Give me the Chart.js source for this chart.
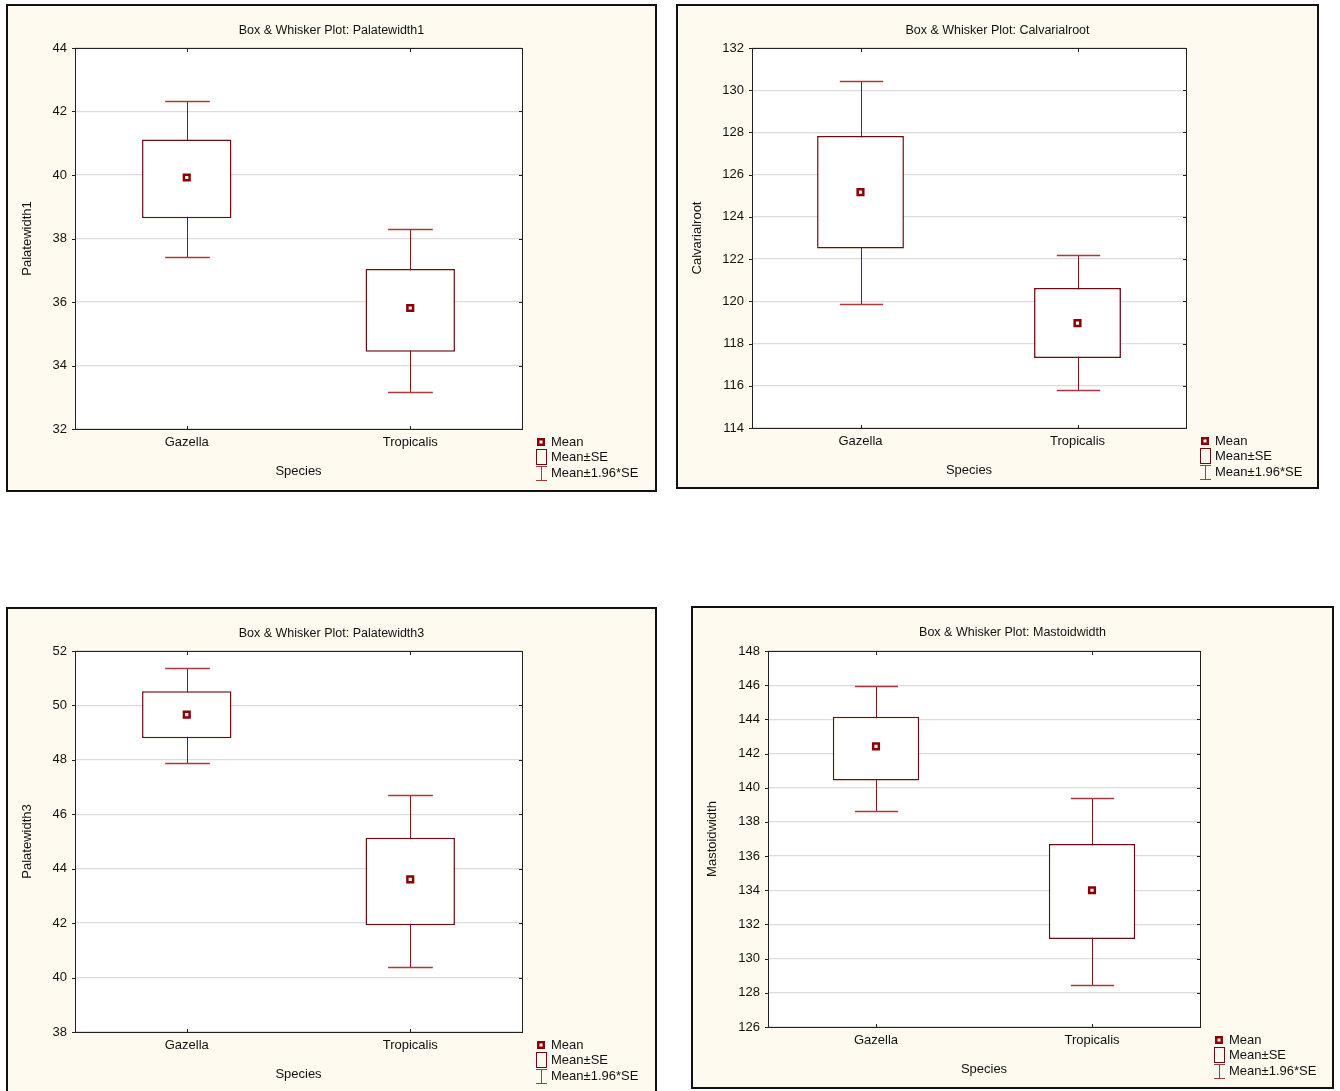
<!DOCTYPE html>
<html>
<head>
<meta charset="utf-8">
<script src="https://cdn.jsdelivr.net/npm/chart.js@4.4.1/dist/chart.umd.min.js"></script>
<style>
  body { margin: 0; background: #fff; width: 1340px; height: 1091px; overflow: hidden; position: relative; }
  .panel { position: absolute; box-sizing: border-box; border: 2px solid #111; background: #fffaef; }
  .panel canvas { position: absolute; left: 0; top: 0; }
</style>
</head>
<body>
<div class="panel" id="p0"><canvas id="c0"></canvas></div>
<div class="panel" id="p1"><canvas id="c1"></canvas></div>
<div class="panel" id="p2"><canvas id="c2"></canvas></div>
<div class="panel" id="p3"><canvas id="c3"></canvas></div>
<script>
// data, one entry per variable: [Gazella, Tropicalis]
const species = ['Gazella', 'Tropicalis'];
const variables = ['Palatewidth1', 'Calvarialroot', 'Palatewidth3', 'Mastoidwidth'];

const meanValues = [[39.92, 35.81], [125.17, 118.97], [49.66, 43.61], [142.42, 134.0]];
const seHigh = [[41.12, 37.04], [127.83, 120.63], [50.52, 45.14], [144.16, 136.71]];
const seLow = [[38.64, 34.43], [122.50, 117.31], [48.79, 41.92], [140.42, 131.15]];
const ciHigh = [[42.32, 38.30], [130.45, 122.21], [51.37, 46.70], [145.97, 139.40]];
const ciLow = [[37.42, 33.17], [119.87, 115.78], [47.89, 40.38], [138.62, 128.48]];

const yMin = [32, 114, 38, 126];
const yMax = [44, 132, 52, 148];
const yStep = [2, 2, 2, 2];

const legendLabels = ['Mean', 'Mean\u00b1SE', 'Mean\u00b11.96*SE'];

// layout of the four panels (page px) and their plot areas
const panels = [
  { left: 6, top: 4, w: 651, h: 488, area: { l: 75, t: 48, r: 522, b: 429 } },
  { left: 676, top: 4, w: 643, h: 485, area: { l: 752, t: 48, r: 1186, b: 428 } },
  { left: 6, top: 607, w: 651, h: 490, area: { l: 75, t: 651, r: 522, b: 1032 } },
  { left: 691, top: 606, w: 643, h: 483, area: { l: 768, t: 651, r: 1200, b: 1027 } }
];

const FONT = "'Liberation Sans', Arial, sans-serif";
const MAROON = '#6e0b0e';
const X_AXIS_H = 56;

function drawMeanMarker(ctx, x, y) {
  ctx.save();
  ctx.fillStyle = '#8b0000';
  ctx.fillRect(Math.round(x) - 4, Math.round(y) - 4, 8, 8);
  ctx.fillStyle = '#fff';
  ctx.fillRect(Math.round(x) - 1.5, Math.round(y) - 1.5, 3, 3);
  ctx.restore();
}

const boxWhiskerPlugin = {
  id: 'boxWhisker',
  beforeDraw(chart) {
    const a = chart.chartArea;
    const ctx = chart.ctx;
    ctx.save();
    ctx.fillStyle = '#fff';
    ctx.fillRect(a.left, a.top, a.right - a.left, a.bottom - a.top);
    ctx.restore();
  },
  beforeDatasetsDraw(chart, args, opts) {
    const ctx = chart.ctx;
    const y = chart.scales.y;
    const bars = chart.getDatasetMeta(1).data;
    ctx.save();
    bars.forEach((bar, i) => {
      const x = Math.round(bar.x) + 0.5;
      const half = bar.width / 4;
      const top = Math.round(y.getPixelForValue(opts.hi[i])) + 0.5;
      const bot = Math.round(y.getPixelForValue(opts.lo[i])) + 0.5;
      // stems
      ctx.strokeStyle = '#861619';
      ctx.lineWidth = 1;
      ctx.beginPath();
      ctx.moveTo(x, top);
      ctx.lineTo(x, bot);
      ctx.stroke();
      // caps
      ctx.strokeStyle = '#a8393c';
      ctx.lineWidth = 1.5;
      ctx.beginPath();
      ctx.moveTo(x - half, top);
      ctx.lineTo(x + half, top);
      ctx.moveTo(x - half, bot);
      ctx.lineTo(x + half, bot);
      ctx.stroke();
    });
    ctx.restore();
  },
  afterDraw(chart, args, opts) {
    const ctx = chart.ctx;
    const a = chart.chartArea;
    const y = chart.scales.y;
    const x = chart.scales.x;
    ctx.save();
    // frame
    ctx.strokeStyle = '#222';
    ctx.lineWidth = 1;
    ctx.strokeRect(Math.round(a.left) + 0.5, Math.round(a.top) + 0.5,
      Math.round(a.right - a.left), Math.round(a.bottom - a.top));
    // small tick marks
    ctx.beginPath();
    y.ticks.forEach(t => {
      const py = Math.round(y.getPixelForValue(t.value)) + 0.5;
      ctx.moveTo(a.left - 3, py); ctx.lineTo(a.left, py);
      ctx.moveTo(a.right - 3, py); ctx.lineTo(a.right, py);
    });
    species.forEach((s, i) => {
      const px = Math.round(x.getPixelForValue(i)) + 0.5;
      ctx.moveTo(px, a.top); ctx.lineTo(px, a.top + 4);
      ctx.moveTo(px, a.bottom); ctx.lineTo(px, a.bottom - 3);
    });
    ctx.stroke();

    // title
    ctx.fillStyle = '#111';
    ctx.font = '12.5px ' + FONT;
    ctx.textAlign = 'center';
    ctx.textBaseline = 'middle';
    ctx.fillText(opts.title, chart.width / 2, 24.5);

    // legend
    const lx = a.right + 19;
    const rows = [a.bottom + 13, a.bottom + 28, a.bottom + 44];
    ctx.font = '13px ' + FONT;
    ctx.textAlign = 'left';
    ctx.fillStyle = '#111';
    legendLabels.forEach((lab, i) => ctx.fillText(lab, lx + 10, rows[i]));
    drawMeanMarker(ctx, lx, rows[0]);
    ctx.strokeStyle = MAROON;
    ctx.lineWidth = 1;
    ctx.strokeRect(Math.round(lx) - 4.5, rows[1] - 7.5, 10, 15);
    ctx.strokeStyle = '#a8393c';
    ctx.beginPath();
    ctx.moveTo(lx - 5, Math.round(rows[2] - 7) + 0.5); ctx.lineTo(lx + 6, Math.round(rows[2] - 7) + 0.5);
    ctx.moveTo(lx - 5, Math.round(rows[2] + 7) + 0.5); ctx.lineTo(lx + 6, Math.round(rows[2] + 7) + 0.5);
    ctx.moveTo(Math.round(lx) + 0.5, rows[2] - 7); ctx.lineTo(Math.round(lx) + 0.5, rows[2] + 7);
    ctx.stroke();
    ctx.restore();
  }
};

function buildChart(i) {
  const p = panels[i];
  const cx = p.left + 2, cy = p.top + 2, cw = p.w - 4, ch = p.h - 4;
  const canvas = document.getElementById('c' + i);
  canvas.width = cw;
  canvas.height = ch;
  canvas.style.width = cw + 'px';
  canvas.style.height = ch + 'px';

  const boxData = species.map((s, j) => [seLow[i][j], seHigh[i][j]]);

  new Chart(canvas, {
    type: 'bar',
    data: {
      labels: species,
      datasets: [
        {
          type: 'line',
          label: 'Mean',
          data: meanValues[i],
          showLine: false,
          pointStyle: 'rect',
          pointRadius: 4,
          pointHoverRadius: 4,
          pointBackgroundColor: '#fff',
          pointBorderColor: '#8b0000',
          pointBorderWidth: 2.5,
          order: 0
        },
        {
          type: 'bar',
          label: 'Mean\u00b1SE',
          data: boxData,
          backgroundColor: '#fff',
          borderColor: MAROON,
          borderWidth: 1.5,
          borderSkipped: false,
          barPercentage: 0.4,
          categoryPercentage: 1,
          order: 1
        }
      ]
    },
    options: {
      responsive: false,
      animation: false,
      devicePixelRatio: 1,
      layout: {
        padding: {
          left: 0,
          top: p.area.t - cy,
          right: cw - (p.area.r - cx),
          bottom: ch - (p.area.b - cy) - X_AXIS_H
        }
      },
      plugins: {
        legend: { display: false },
        tooltip: { enabled: false },
        boxWhisker: {
          lo: ciLow[i],
          hi: ciHigh[i],
          title: 'Box & Whisker Plot: ' + variables[i]
        }
      },
      scales: {
        x: {
          type: 'category',
          offset: true,
          grid: { display: false, drawTicks: false },
          border: { display: false },
          ticks: { color: '#111', font: { family: FONT, size: 13 }, padding: 6 },
          title: {
            display: true,
            text: 'Species',
            color: '#111',
            font: { family: FONT, size: 13 },
            padding: { top: 0, bottom: 6 }
          },
          afterFit: s => { s.height = X_AXIS_H; }
        },
        y: {
          min: yMin[i],
          max: yMax[i],
          ticks: {
            stepSize: yStep[i],
            color: '#111',
            font: { family: FONT, size: 13 },
            padding: 8
          },
          grid: { color: '#dcdcdc', lineWidth: 1.3, drawTicks: false },
          border: { display: false },
          title: {
            display: true,
            text: variables[i],
            color: '#111',
            font: { family: FONT, size: 13 },
            padding: { top: 12, bottom: 0 }
          },
          afterFit: s => { s.width = p.area.l - cx; }
        }
      }
    },
    plugins: [boxWhiskerPlugin]
  });
}

panels.forEach((p, i) => {
  const el = document.getElementById('p' + i);
  el.style.left = p.left + 'px';
  el.style.top = p.top + 'px';
  el.style.width = p.w + 'px';
  el.style.height = p.h + 'px';
  buildChart(i);
});
</script>
</body>
</html>
